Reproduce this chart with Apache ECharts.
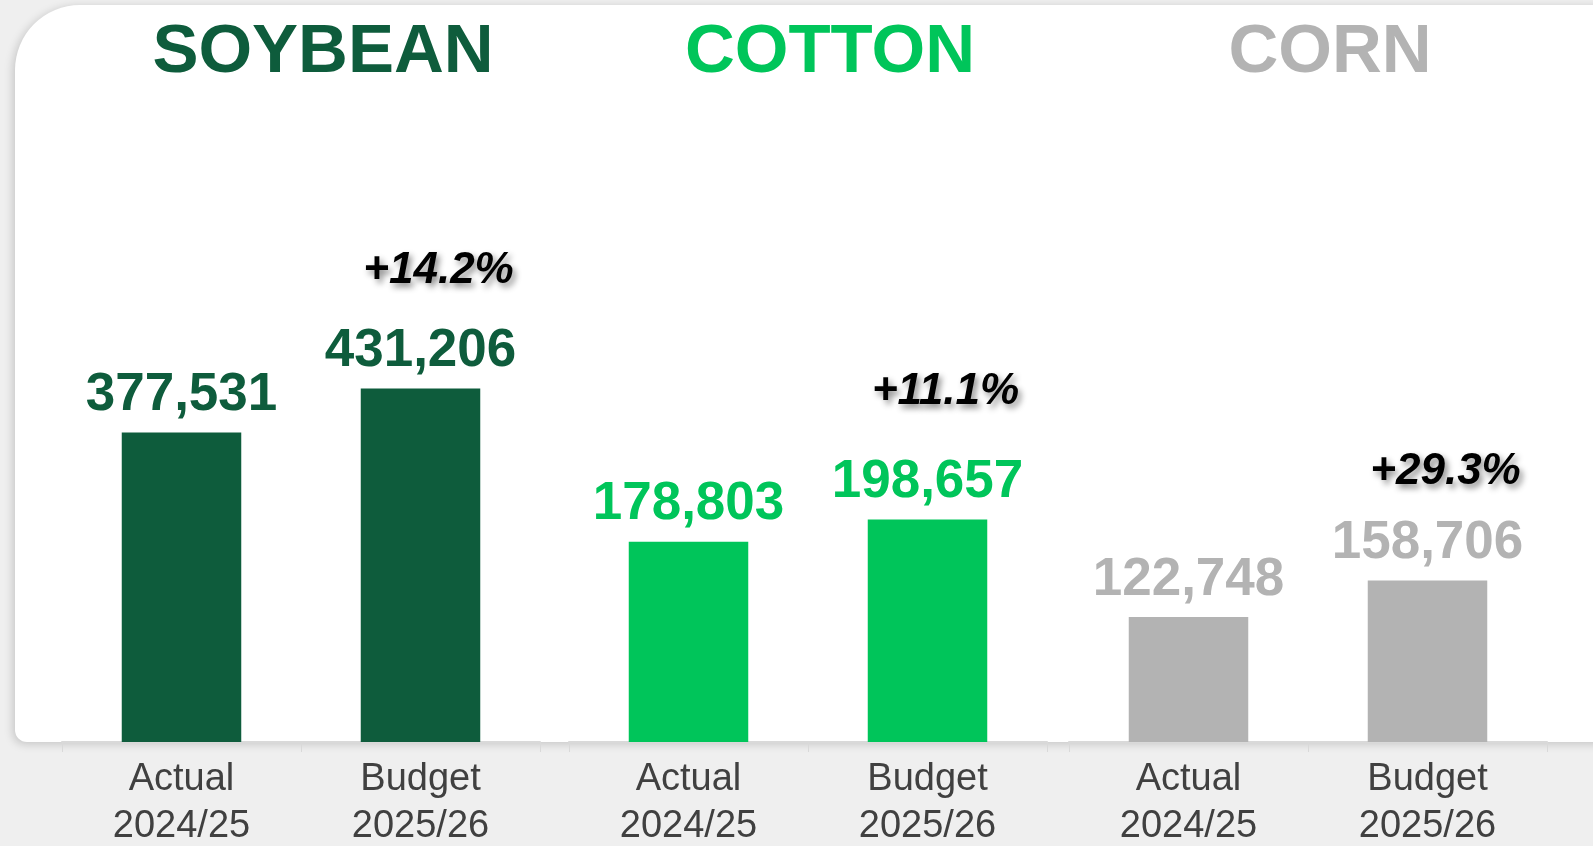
<!DOCTYPE html>
<html>
<head>
<meta charset="utf-8">
<script src="https://cdn.jsdelivr.net/npm/echarts@6/dist/echarts.min.js"></script>
<style>
  html, body { margin: 0; padding: 0; background: #efefef; }
  #chart { width: 1593px; height: 846px; }
</style>
</head>
<body>
<div id="chart"></div>
<script>
// data
const categories = ["Actual\n2024/25", "Budget\n2025/26"];
const crops = ["SOYBEAN", "COTTON", "CORN"];
const soybean = [377531, 431206];
const cotton = [178803, 198657];
const corn = [122748, 158706];
const changes = ["+14.2%", "+11.1%", "+29.3%"];

const values = [soybean, cotton, corn];
const colors = ["#0e5c3c", "#00c55a", "#b3b3b3"];
// each crop has its own scale in the original
const axisMax = [783000, 573000, 631000];
const gridLeft = [62, 569, 1069];
const titleX = [323, 830, 1330];
// gap above the budget value label, differs per panel in the original
const pctLineHeight = [106, 126, 88];

const chart = echarts.init(document.getElementById("chart"));
const font = "'Liberation Sans', Arial, sans-serif";

const grids = [], xAxes = [], yAxes = [], series = [], graphics = [];

graphics.push({
	type: "rect",
	shape: { x: 15, y: 5, width: 1640, height: 737, r: [65, 0, 60, 12] },
	style: { fill: "#ffffff", shadowBlur: 10, shadowColor: "rgba(0,0,0,0.18)", shadowOffsetX: -2, shadowOffsetY: 2 },
	z: -10
});

crops.forEach((crop, i) => {
	grids.push({ left: gridLeft[i], width: 478, top: 100, bottom: 104, outerBoundsMode: "none" });
	xAxes.push({
		type: "category",
		gridIndex: i,
		data: categories,
		axisLine: { show: true, lineStyle: { color: "#d9d9d9", width: 2 } },
		axisTick: { show: true, length: 10, lineStyle: { color: "#d9d9d9" } },
		axisLabel: {
			color: "#404040",
			fontSize: 38,
			lineHeight: 47,
			margin: 14,
			fontFamily: font
		}
	});
	yAxes.push({
		type: "value",
		gridIndex: i,
		min: 0,
		max: axisMax[i],
		show: false,
		splitLine: { show: false }
	});
	series.push({
		type: "bar",
		xAxisIndex: i,
		yAxisIndex: i,
		data: values[i],
		barWidth: "50%",
		itemStyle: { color: colors[i] },
		label: {
			show: true,
			position: "top",
			distance: 9,
			formatter: function(p) {
				const v = "{val|" + p.value.toLocaleString("en-US") + "}";
				return p.dataIndex === 1 ? "{pct|" + changes[i] + "}\n" + v : v;
			},
			rich: {
				val: {
					fontFamily: font,
					fontSize: 53,
					fontWeight: "bold",
					color: colors[i],
					lineHeight: 56
				},
				pct: {
					fontFamily: font,
					fontSize: 44,
					fontWeight: "bold",
					fontStyle: "italic",
					color: "#000000",
					lineHeight: pctLineHeight[i],
					padding: [0, 0, 0, 36],
					textShadowColor: "rgba(0,0,0,0.45)",
					textShadowBlur: 6,
					textShadowOffsetX: 3,
					textShadowOffsetY: 4
				}
			}
		}
	});
	graphics.push({
		type: "text",
		x: titleX[i],
		y: 53,
		style: {
			text: crop,
			fill: colors[i],
			font: "bold 69px " + font,
			align: "center",
			verticalAlign: "middle"
		}
	});
});

chart.setOption({
	backgroundColor: "#efefef",
	animation: false,
	grid: grids,
	xAxis: xAxes,
	yAxis: yAxes,
	series: series,
	graphic: graphics
});
</script>
</body>
</html>
